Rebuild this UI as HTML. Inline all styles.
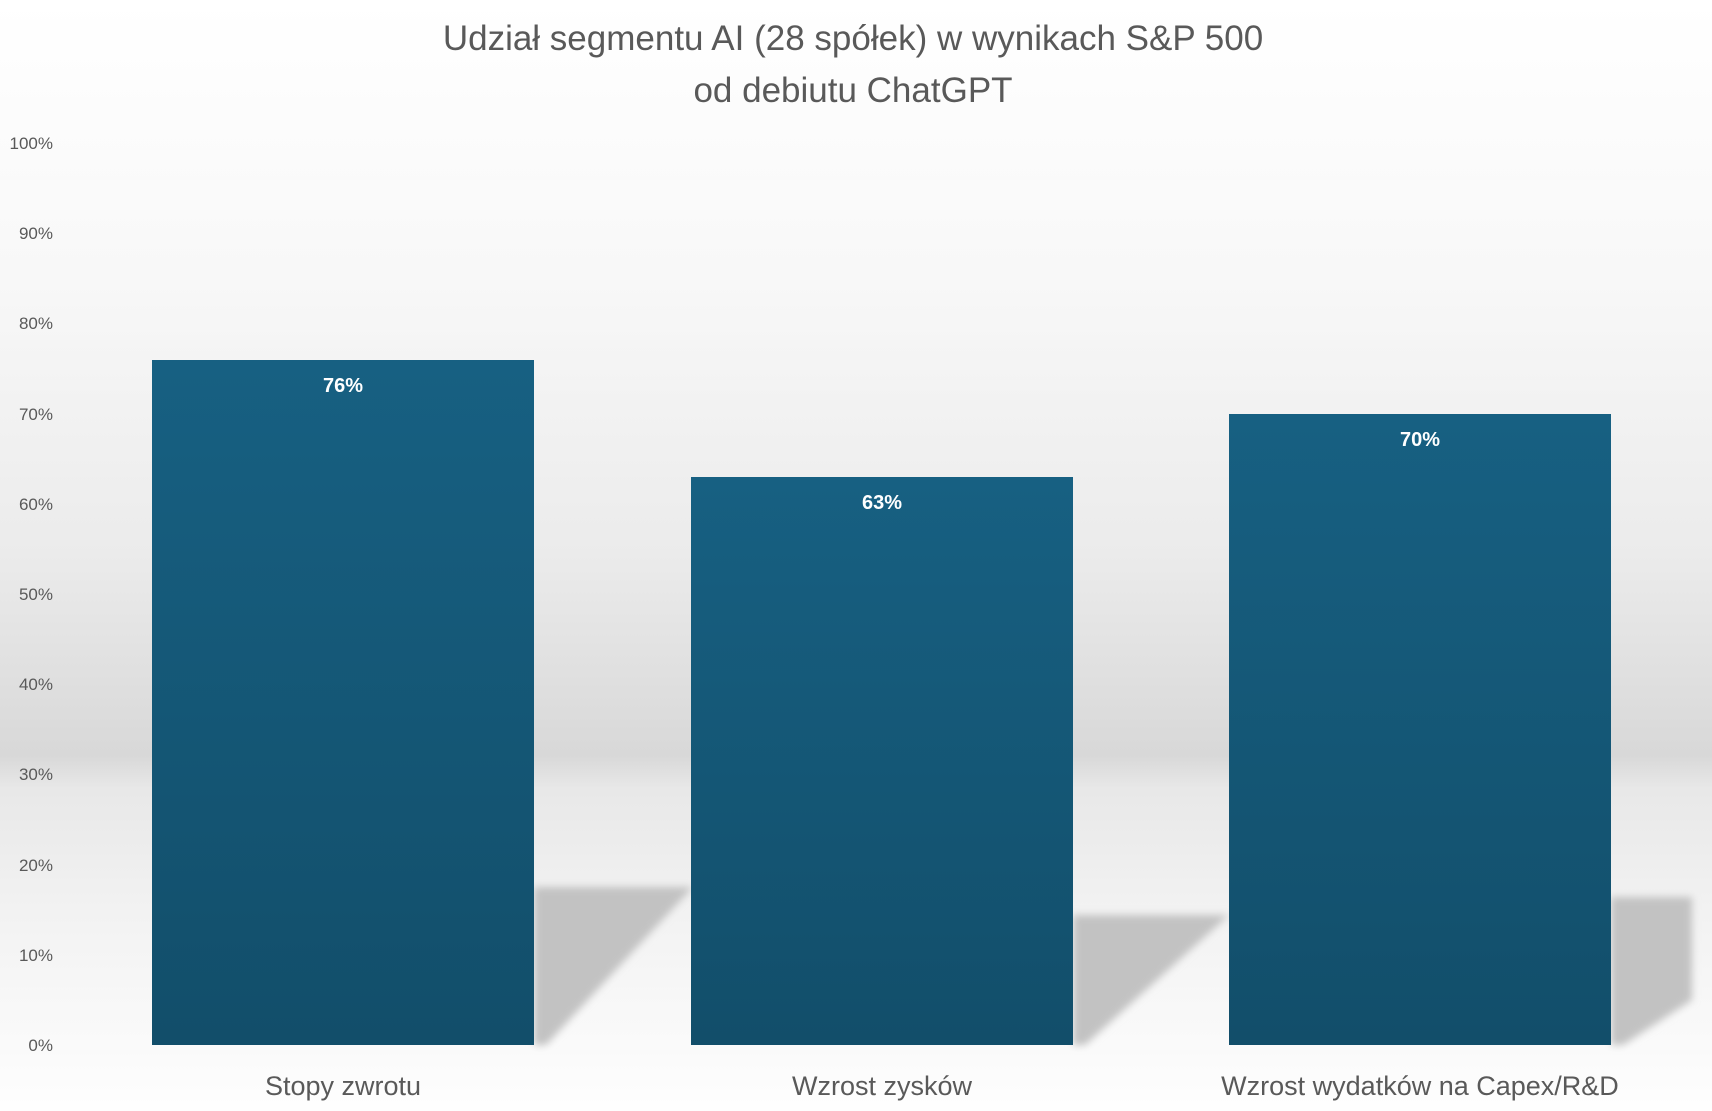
<!DOCTYPE html>
<html><head><meta charset="utf-8"><style>
html,body{margin:0;padding:0;width:1712px;height:1111px;overflow:hidden;}
text{font-family:"Liberation Sans Narrow","Liberation Sans",sans-serif;}
</style></head><body>
<svg width="1712" height="1111" viewBox="0 0 1712 1111" xmlns="http://www.w3.org/2000/svg">
<defs>
<linearGradient id="bg" x1="0" y1="0" x2="0" y2="1">
<stop offset="0" stop-color="#ffffff"/>
<stop offset="0.25" stop-color="#f8f8f8"/>
<stop offset="0.5" stop-color="#ebebeb"/>
<stop offset="0.68" stop-color="#d8d8d8"/>
<stop offset="0.71" stop-color="#e8e8e8"/>
<stop offset="0.82" stop-color="#f2f2f2"/>
<stop offset="1" stop-color="#fefefe"/>
</linearGradient>
<linearGradient id="bar" x1="0" y1="0" x2="0" y2="1">
<stop offset="0" stop-color="#176082"/>
<stop offset="1" stop-color="#124e6a"/>
</linearGradient>
<filter id="bl" x="-20%" y="-20%" width="140%" height="140%"><feGaussianBlur stdDeviation="4"/></filter>
</defs>
<rect width="1712" height="1111" fill="url(#bg)"/>
<g fill="#c2c2c2" filter="url(#bl)">
<polygon points="534,887 693,887 546,1045 534,1045"/>
<polygon points="1073,915 1229,915 1085,1045 1073,1045"/>
<polygon points="1611,897 1692,897 1692,1000 1623,1045 1611,1045"/>
</g>
<rect x="152" y="360" width="382" height="685" fill="url(#bar)"/>
<rect x="691" y="477" width="382" height="568" fill="url(#bar)"/>
<rect x="1229" y="414" width="382" height="631" fill="url(#bar)"/>
<g fill="#ffffff" font-size="20" font-weight="bold" text-anchor="middle">
<text x="343" y="392">76%</text>
<text x="882" y="509">63%</text>
<text x="1420" y="446">70%</text>
</g>
<g fill="#595959" font-size="17" text-anchor="end">
<text x="53" y="149">100%</text>
<text x="53" y="239">90%</text>
<text x="53" y="329">80%</text>
<text x="53" y="420">70%</text>
<text x="53" y="510">60%</text>
<text x="53" y="600">50%</text>
<text x="53" y="690">40%</text>
<text x="53" y="780">30%</text>
<text x="53" y="871">20%</text>
<text x="53" y="961">10%</text>
<text x="53" y="1051">0%</text>
</g>
<g fill="#595959" font-size="27" text-anchor="middle">
<text x="343" y="1095">Stopy zwrotu</text>
<text x="882" y="1095">Wzrost zysków</text>
<text x="1420" y="1095">Wzrost wydatków na Capex/R&amp;D</text>
</g>
<g fill="#595959" font-size="35" text-anchor="middle">
<text x="853" y="50">Udział segmentu AI (28 spółek) w wynikach S&amp;P 500</text>
<text x="853" y="102">od debiutu ChatGPT</text>
</g>
</svg>
</body></html>
